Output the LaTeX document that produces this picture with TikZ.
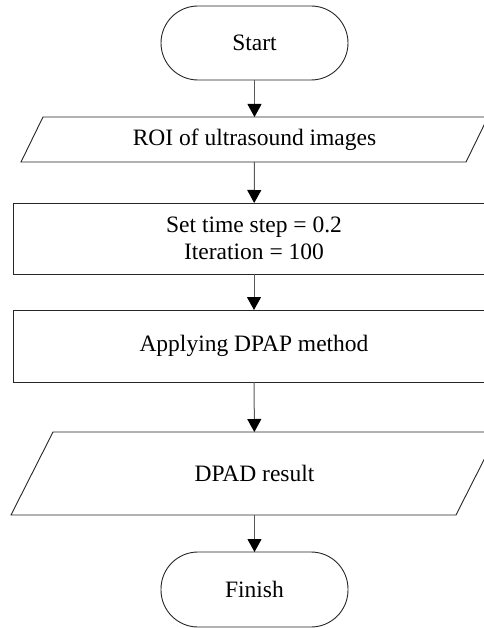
\documentclass[tikz,border=0pt]{standalone}
\usepackage{fontspec}
\setmainfont{Liberation Serif}
\usetikzlibrary{arrows.meta}
\begin{document}
\begin{tikzpicture}[x=1pt,y=-1pt,
  every node/.style={inner sep=0pt,outer sep=0pt,font=\fontsize{23.5}{27}\selectfont,align=center},
  term/.style={draw=black!85,line width=0.9pt,minimum width=187pt,rounded corners=37pt},
  procbox/.style={draw=black!85,line width=0.9pt,minimum width=482pt},
  iobox/.style={minimum width=445pt},
  ioline/.style={draw=black!85,line width=0.9pt},
  conn/.style={draw=black!65,line width=1pt,-{Triangle[length=13pt,width=14pt,fill=black,color=black]}}]
\useasboundingbox (0,0) rectangle (483,628);
\fill[white] (0,0) rectangle (483,628);
\node[term,minimum height=74pt] (start) at (254.5,43) {Start};
\node[iobox,minimum height=45pt] (roi) at (254.5,139.5) {ROI of ultrasound images};
\draw[ioline] ([xshift=-11pt]roi.south west) -- ([xshift=-11pt]roi.south east) -- ([xshift=11pt]roi.north east) -- ([xshift=11pt]roi.north west) -- cycle;
\node[procbox,minimum height=71pt] (set) at (254,238.5) {Set time step = 0.2\\Iteration = 100};
\node[procbox,minimum height=72pt] (apply) at (254,346) {Applying DPAP method};
\node[iobox,minimum height=83pt] (res) at (254.5,473.5) {DPAD result};
\draw[ioline] ([xshift=-21pt]res.south west) -- ([xshift=-21pt]res.south east) -- ([xshift=21pt]res.north east) -- ([xshift=21pt]res.north west) -- cycle;
\node[term,minimum height=75pt] (fin) at (254.5,589.5) {Finish};
\draw[conn] (start) -- (roi);
\draw[conn] (roi) -- (set);
\draw[conn] (set) -- (apply);
\draw[conn] (apply) -- (res);
\draw[conn] (res) -- (fin);
\end{tikzpicture}
\end{document}
